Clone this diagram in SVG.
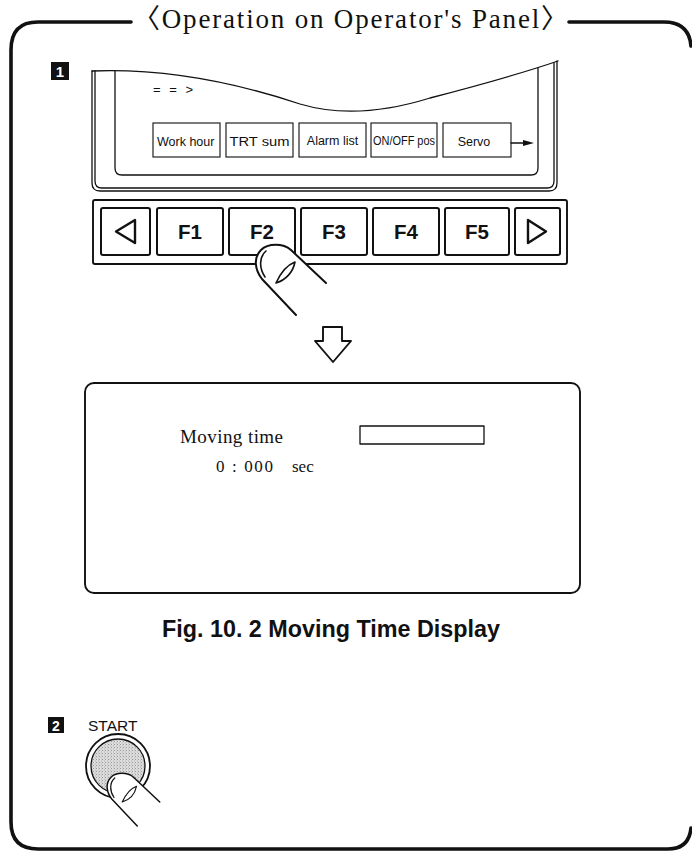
<svg xmlns="http://www.w3.org/2000/svg" width="692" height="852" viewBox="0 0 692 852">
  <style>
    .ln{fill:none;stroke:#111;stroke-linecap:round;stroke-linejoin:round}
    .frame{stroke-width:3.6}
    .thin{stroke-width:1.3}
    .mid{stroke-width:1.9}
    .key{fill:#fff;stroke:#111;stroke-width:2}
    .soft{fill:#fff;stroke:#222;stroke-width:1.2}
    .sans{font-family:"Liberation Sans",Arial,sans-serif;fill:#111}
    .serif{font-family:"Liberation Serif","Noto Sans CJK JP",serif;fill:#111}
    .kl{font-family:"Liberation Sans",Arial,sans-serif;font-weight:bold;font-size:20.5px;text-anchor:middle;fill:#111}
    .sk{font-family:"Liberation Sans",Arial,sans-serif;font-size:12.5px;text-anchor:middle;fill:#111}
    .badge{font-family:"Liberation Sans",Arial,sans-serif;font-weight:bold;fill:#fff;text-anchor:middle}
  </style>
  <defs>
    <pattern id="stipple" width="3" height="3" patternUnits="userSpaceOnUse">
      <rect width="3" height="3" fill="#dcdcdc"/>
      <rect width="1" height="1" fill="#9a9a9a"/>
      <rect x="2" y="1.5" width="1" height="1" fill="#b5b5b5"/>
    </pattern>
    <!-- pressing finger, tip at upper left -->
    <g id="finger">
      <path d="M291,250 C283,243 268,243 261,250 C253,258 255,270 262,279 L296,315 L326,283 Z" fill="#fff" stroke="none"/>
      <path class="ln" stroke-width="2" d="M326,283 L291,250 C283,243 268,243 261,250 C253,258 255,270 262,279 L296,315"/>
      <path class="ln" stroke-width="1.6" d="M266,251 C259,257 259,268 265,277"/>
      <path class="ln" stroke-width="1.6" d="M276,283 C281,272 287,265 295,262 C293,272 286,280 276,283 Z"/>
    </g>
    <clipPath id="clipWork"><rect x="153" y="123" width="64" height="34"/></clipPath>
  </defs>

  <!-- outer frame -->
  <g id="frame">
    <path class="ln frame" d="M131,22 H38 Q11,22 11,50 V822 Q11,849 38,849 H668 Q689,849 691,828"/>
    <path class="ln frame" d="M569,22 H664 Q689,22 691,46"/>
    <text class="serif" x="350.5" y="28" font-size="27" text-anchor="middle" textLength="435" lengthAdjust="spacing">〈Operation on Operator's Panel〉</text>
  </g>

  <!-- step 1 -->
  <g id="step1">
    <rect x="51" y="62" width="18" height="18" fill="#111"/>
    <text class="badge" x="60" y="77" font-size="15">1</text>
  </g>

  <!-- operator panel screen -->
  <g id="panel">
    <path class="ln thin" d="M92,71 C170,68 240,84 300,104 C340,116 385,112 430,98 C480,85 520,74 558,61"/>
    <path class="ln thin" d="M92,71 V183 Q92,191 100,191 H549 Q557,191 557,183 V61"/>
    <path class="ln thin" d="M95,71 V181 Q95,188 102,188 H547 Q554,188 554,181 V63"/>
    <path class="ln thin" d="M115,71 V168 Q115,175 122,175 H531 Q538,175 538,168 V68"/>
    <text class="sans" x="153" y="94" font-size="13" fill="#333" textLength="40" lengthAdjust="spacing">==&gt;</text>
  </g>

  <!-- soft key labels -->
  <g id="softkey-work">
    <rect class="soft" x="153" y="123" width="67" height="34"/>
    <text class="sk" x="157" y="146" font-size="13.8" style="text-anchor:start" clip-path="url(#clipWork)">Work hour</text>
  </g>
  <g id="softkey-trt">
    <rect class="soft" x="226" y="123" width="67" height="34"/>
    <text class="sk" x="259.5" y="146" font-size="16.5" textLength="60" lengthAdjust="spacingAndGlyphs">TRT sum</text>
  </g>
  <g id="softkey-alarm">
    <rect class="soft" x="299" y="123" width="67" height="34"/>
    <text class="sk" x="332.5" y="145">Alarm list</text>
  </g>
  <g id="softkey-onoff">
    <rect class="soft" x="371" y="123" width="66" height="34"/>
    <text class="sk" x="404" y="145" textLength="62" lengthAdjust="spacingAndGlyphs">ON/OFF pos</text>
  </g>
  <g id="softkey-servo">
    <rect class="soft" x="443" y="123" width="68" height="34"/>
    <text class="sk" x="474" y="146">Servo</text>
  </g>

  <!-- function key row -->
  <g id="keyrow">
    <rect class="ln mid" x="93" y="200" width="474" height="64" rx="2"/>
  </g>
  <g id="key-left">
    <rect class="key" x="101" y="208" width="49" height="47" rx="2"/>
    <polygon class="ln" stroke-width="2.4" points="116,231.5 135,220 135,243"/>
  </g>
  <g id="key-f1">
    <rect class="key" x="157" y="208" width="66" height="47" rx="2"/>
    <text class="kl" x="190" y="239">F1</text>
  </g>
  <g id="key-f2">
    <rect class="key" x="229" y="208" width="66" height="47" rx="2"/>
    <text class="kl" x="262" y="239">F2</text>
  </g>
  <g id="key-f3">
    <rect class="key" x="301" y="208" width="66" height="47" rx="2"/>
    <text class="kl" x="334" y="239">F3</text>
  </g>
  <g id="key-f4">
    <rect class="key" x="373" y="208" width="66" height="47" rx="2"/>
    <text class="kl" x="406" y="239">F4</text>
  </g>
  <g id="key-f5">
    <rect class="key" x="445" y="208" width="64" height="47" rx="2"/>
    <text class="kl" x="477" y="239">F5</text>
  </g>
  <g id="key-right">
    <rect class="key" x="515" y="208" width="45" height="47" rx="2"/>
    <polygon class="ln" stroke-width="2.4" points="546,231.5 528,220 528,243"/>
  </g>

  <g id="finger-f2">
    <use href="#finger"/>
  </g>

  <!-- connectors -->
  <g id="connectors">
    <line class="ln thin" x1="511" y1="143" x2="526" y2="143"/>
    <polygon points="523,140 534,143 523,146" fill="#111"/>
    <polygon class="ln mid" points="323,327 342,327 342,341 351,341 333,362 315,341 323,341"/>
  </g>

  <!-- moving time display -->
  <g id="display">
    <rect class="ln mid" x="85" y="383" width="495" height="210" rx="9"/>
    <text class="serif" x="180" y="443" font-size="19" textLength="103" lengthAdjust="spacing">Moving time</text>
    <rect class="ln thin" x="360" y="426" width="124" height="18"/>
    <text class="serif" x="216" y="472" font-size="17" textLength="57" lengthAdjust="spacing">0 : 000</text>
    <text class="serif" x="292" y="472" font-size="17">sec</text>
  </g>

  <g id="caption">
    <text class="sans" x="162" y="637" font-size="23" font-weight="bold" textLength="338" lengthAdjust="spacingAndGlyphs">Fig. 10. 2 Moving Time Display</text>
  </g>

  <!-- step 2 -->
  <g id="step2">
    <rect x="48" y="717" width="16" height="16" fill="#111"/>
    <text class="badge" x="56" y="730.5" font-size="14">2</text>
    <text class="sans" x="88" y="731" font-size="15.5">START</text>
  </g>
  <g id="start-button">
    <circle cx="118" cy="766" r="32" fill="#fff" stroke="#111" stroke-width="1.8"/>
    <circle cx="118" cy="766" r="27" fill="url(#stipple)" stroke="#111" stroke-width="1.3"/>
    <use href="#finger" transform="translate(108,772) scale(0.75) translate(-257,-243)"/>
  </g>
</svg>
